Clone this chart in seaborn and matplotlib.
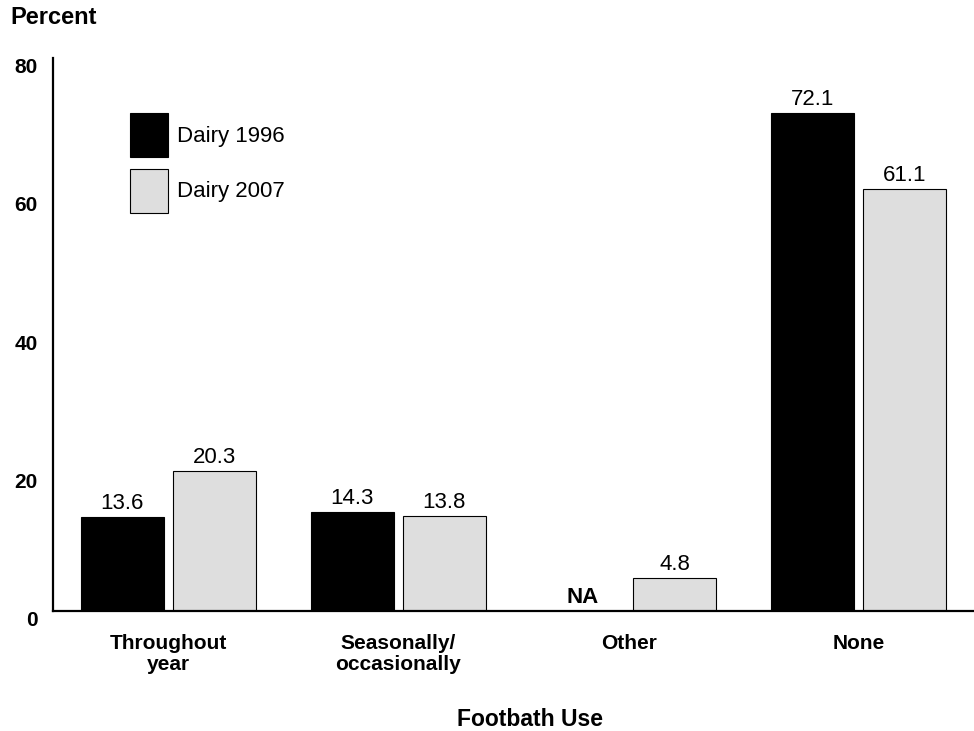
import numpy as np
import pandas as pd
import seaborn as sns
import matplotlib.pyplot as plt

# Footbath use, percent of operations
categories = ['Throughout\nyear', 'Seasonally/\noccasionally', 'Other', 'None']
dairy_1996 = [13.6, 14.3, np.nan, 72.1]
dairy_2007 = [20.3, 13.8, 4.8, 61.1]
series_names = ['Dairy 1996', 'Dairy 2007']
y_ticks = [0, 20, 40, 60, 80]


def main():
    df = pd.DataFrame({
        'Category': categories * 2,
        'Study': [series_names[0]] * len(categories) + [series_names[1]] * len(categories),
        'Percent': dairy_1996 + dairy_2007,
    })
    df['Label'] = df['Percent'].map(lambda v: 'NA' if pd.isna(v) else f'{v:.1f}')
    df['Height'] = df['Percent'].fillna(0)

    sns.set_style('white')
    plt.rcParams['font.family'] = ['Liberation Sans', 'DejaVu Sans']
    plt.rcParams['text.color'] = 'black'
    plt.rcParams['xtick.color'] = 'black'
    plt.rcParams['ytick.color'] = 'black'
    plt.rcParams['axes.labelcolor'] = 'black'

    fig = plt.figure(figsize=(9.74, 7.31), dpi=100)
    ax = fig.add_axes([53 / 974, 1 - 611 / 731, 1 - 53 / 974, (611 - 58) / 731])

    sns.barplot(data=df, x='Category', y='Height', hue='Study', order=categories,
                hue_order=series_names,
                palette={series_names[0]: 'black', series_names[1]: '#dedede'},
                edgecolor='black', linewidth=0.8, width=0.8, gap=0.1,
                errorbar=None, ax=ax)

    for container, name in zip(ax.containers, series_names):
        labels = df[df['Study'] == name].set_index('Category').loc[categories, 'Label'].tolist()
        texts = ax.bar_label(container, labels=labels, padding=2, fontsize=16)
        for t, lab in zip(texts, labels):
            if lab == 'NA':
                t.set_fontweight('bold')

    ax.set_xlim(-0.5, 3.5)
    ax.set_ylim(0, 80)
    ax.set_yticks(y_ticks)
    ax.tick_params(axis='both', length=0)
    ax.tick_params(axis='x', pad=16.5, labelsize=15)
    ax.tick_params(axis='y', pad=11, labelsize=15)
    for lab in ax.get_yticklabels():
        lab.set_fontweight('bold')
        lab.set_va('top')
    for lab in ax.get_xticklabels():
        lab.set_fontweight('bold')
        lab.set_linespacing(1.12)

    sns.despine(ax=ax, top=True, right=True)
    for side in ['left', 'bottom']:
        ax.spines[side].set_linewidth(1.6)
        ax.spines[side].set_color('black')

    ax.set_ylabel('')
    ax.set_xlabel('Footbath Use', fontsize=16.5, fontweight='bold')
    ax.xaxis.set_label_coords((530 - 53) / 921, (611 - 708) / 553)

    fig.text(10 / 974, 1 - 18 / 731, 'Percent', fontsize=17, fontweight='bold',
             va='center', ha='left')

    handles, labels = ax.get_legend_handles_labels()
    ax.legend(handles, labels, loc='upper left',
              bbox_to_anchor=(130 / 974, 1 - 113 / 731), bbox_transform=fig.transFigure,
              frameon=False, fontsize=16, borderpad=0, borderaxespad=0,
              handlelength=1.7, handleheight=2.65, handletextpad=0.4, labelspacing=0.55)

    fig.savefig('out.png', dpi=100)


if __name__ == '__main__':
    main()
